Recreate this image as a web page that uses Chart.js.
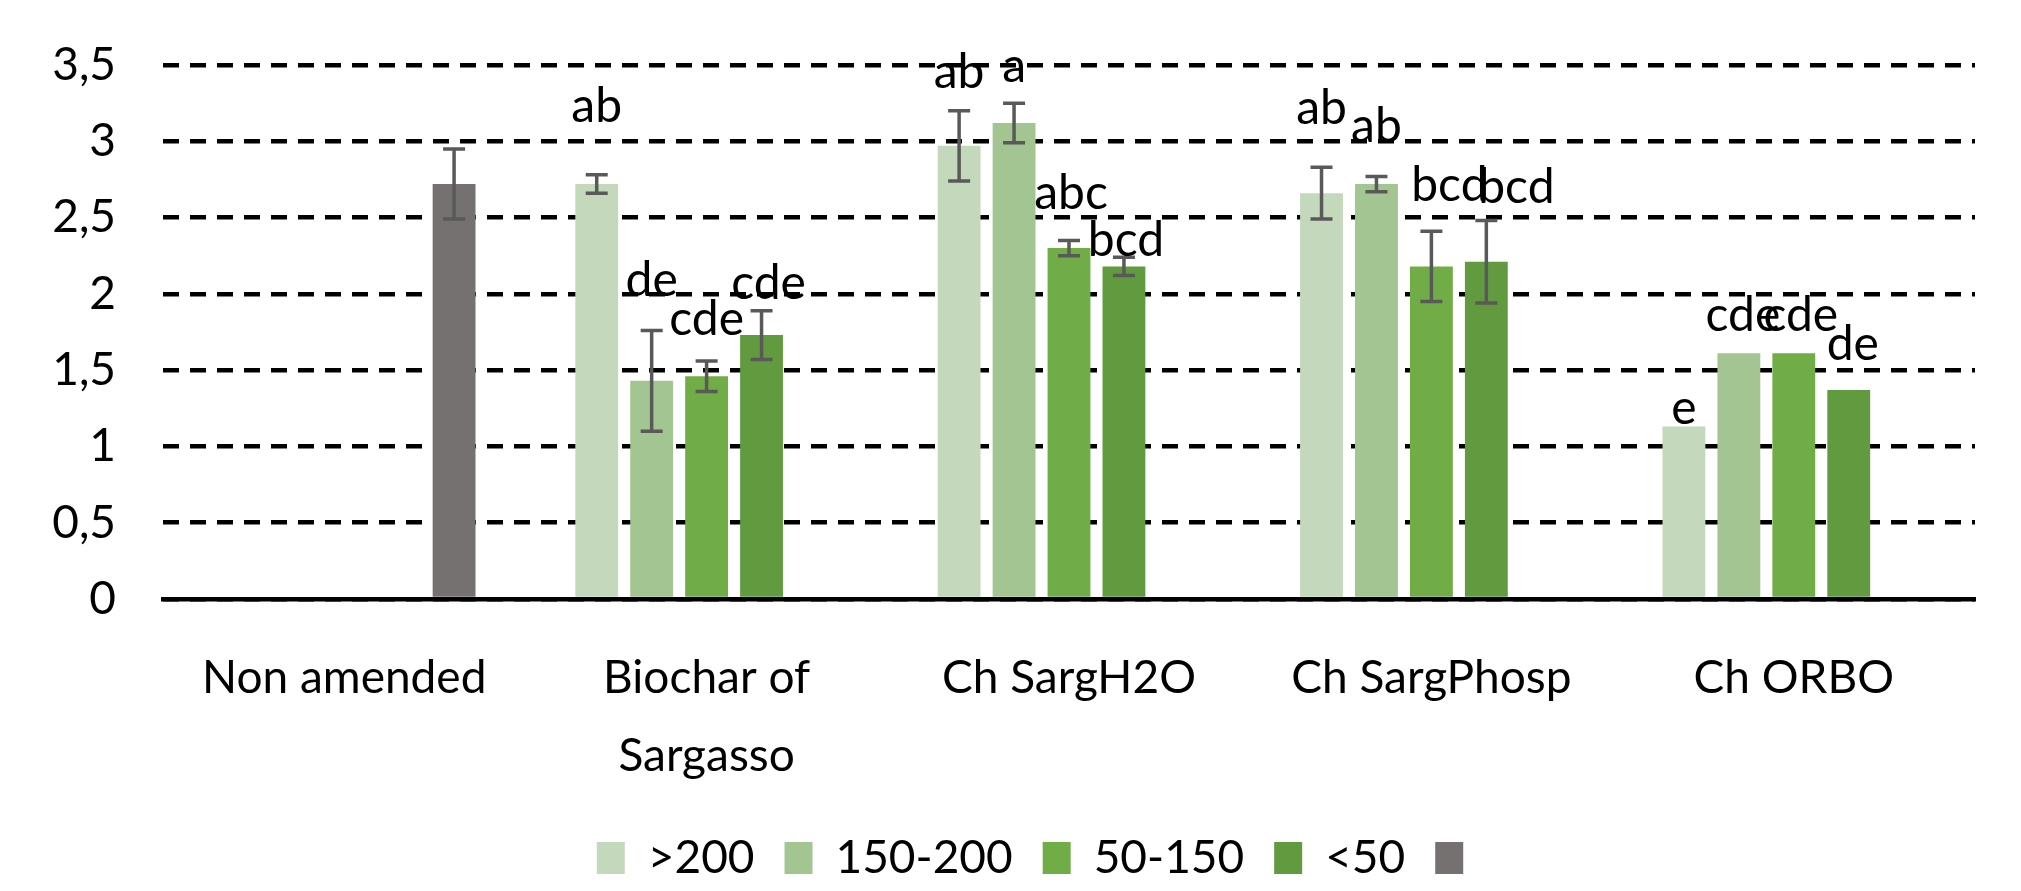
<!DOCTYPE html>
<html>
<head>
<meta charset="utf-8">
<script src="https://cdn.jsdelivr.net/npm/chart.js@4.4.0/dist/chart.umd.min.js"></script>
<style>
  html, body { margin: 0; padding: 0; background: #fff; }
  #wrap { width: 2021px; height: 891px; position: relative; }
</style>
</head>
<body>
<div id="wrap"><canvas id="myChart"></canvas></div>
<script>
// categories (treatments)
const categories = ['Non amended', ['Biochar of', 'Sargasso'], 'Ch SargH2O', 'Ch SargPhosp', 'Ch ORBO'];

// series names (size fractions)
const seriesNames = ['>200', '150-200', '50-150', '<50', ''];

// mean values
const gt200    = [null, 2.72, 2.97, 2.66, 1.13];
const r150_200 = [null, 1.43, 3.12, 2.72, 1.61];
const r50_150  = [null, 1.46, 2.30, 2.18, 1.61];
const lt50     = [null, 1.73, 2.18, 2.21, 1.37];
const nonAmended = [2.72, null, null, null, null];

// standard errors
const errGt200    = [0, 0.06, 0.23, 0.17, 0];
const errR150_200 = [0, 0.33, 0.13, 0.05, 0];
const errR50_150  = [0, 0.10, 0.05, 0.23, 0];
const errLt50     = [0, 0.16, 0.06, 0.27, 0];
const errNonAmended = [0.23, 0, 0, 0, 0];

// significance letters
const letGt200    = [null, 'ab', 'ab', 'ab', 'e'];
const letR150_200 = [null, 'de', 'a', 'ab', 'cde'];
const letR50_150  = [null, 'cde', 'abc', 'bcd', 'cde'];
const letLt50     = [null, 'cde', 'bcd', 'bcd', 'de'];
const letNonAmended = [null, null, null, null, null];

// y axis ticks
const yTicks = [0, 0.5, 1, 1.5, 2, 2.5, 3, 3.5];

// --- styling ---
const colors = ['#C4D8BB', '#A3C592', '#70AD47', '#629B3F', '#767171'];
// how far above the error bar each letter sits (axis units)
const letterLift = [
  [0, 0.45, 0.25, 0.385, 0.12],
  [0, 0.33, 0.24, 0.33, 0.25],
  [0, 0.27, 0.31, 0.30, 0.25],
  [0, 0.18, 0.11, 0.22, 0.30],
  [0, 0, 0, 0, 0]
];
// sideways nudge of letters (px)
const letterNudge = [
  [0, 0, 0, 0, 0],
  [0, 0, 0, 0, 4],
  [0, 0, 2, 18, 7],
  [0, 7, 2, 30, 4],
  [0, 0, 0, 0, 0]
];

const FONT = 'Lato';
const values = [gt200, r150_200, r50_150, lt50, nonAmended];
const errors = [errGt200, errR150_200, errR50_150, errLt50, errNonAmended];
const letters = [letGt200, letR150_200, letR50_150, letLt50, letNonAmended];

const datasets = values.map((v, i) => ({
  label: seriesNames[i],
  data: v,
  backgroundColor: colors[i],
  borderWidth: 0,
  categoryPercentage: 0.758,
  barPercentage: 0.78
}));

const errorBars = {
  id: 'errorBars',
  afterDatasetsDraw(chart) {
    const ctx = chart.ctx;
    const y = chart.scales.y;
    ctx.save();
    values.forEach((vals, d) => {
      const meta = chart.getDatasetMeta(d);
      meta.data.forEach((bar, i) => {
        const v = vals[i];
        if (v == null) return;
        const e = errors[d][i];
        if (e > 0) {
          const top = y.getPixelForValue(v + e);
          const bot = y.getPixelForValue(v - e);
          ctx.strokeStyle = '#595959';
          ctx.lineWidth = 3.5;
          ctx.beginPath();
          ctx.moveTo(bar.x, top); ctx.lineTo(bar.x, bot);
          ctx.moveTo(bar.x - 11, top); ctx.lineTo(bar.x + 11, top);
          ctx.moveTo(bar.x - 11, bot); ctx.lineTo(bar.x + 11, bot);
          ctx.stroke();
        }
        const t = letters[d][i];
        if (t) {
          ctx.fillStyle = '#000';
          ctx.font = '48px ' + FONT;
          ctx.textAlign = 'center';
          ctx.textBaseline = 'middle';
          ctx.fillText(t, bar.x + letterNudge[d][i], y.getPixelForValue(v + e + letterLift[d][i]));
        }
      });
    });
    ctx.restore();
  }
};

// legend sits a bit right of centre in the original
const legendShift = {
  id: 'legendShift',
  afterLayout(chart) {
    chart.legend.left += 54;
    chart.legend.right += 54;
  }
};

const ctx1 = document.getElementById('myChart').getContext('2d');
const myChart = new Chart(ctx1, {
  type: 'bar',
  data: { labels: categories, datasets: datasets },
  plugins: [errorBars, legendShift],
  options: {
    responsive: true,
    maintainAspectRatio: false,
    animation: false,
    layout: { padding: { left: 0, right: 46, top: 65, bottom: 0 } },
    plugins: {
      tooltip: { enabled: false },
      legend: {
        position: 'bottom',
        labels: {
          boxWidth: 28,
          boxHeight: 32,
          padding: 30,
          color: '#000',
          font: { family: FONT, size: 46 }
        }
      }
    },
    scales: {
      x: {
        afterFit: s => { s.height = 206; },
        grid: { display: false, drawTicks: false },
        border: { display: true, color: '#000', width: 4.5 },
        ticks: {
          color: '#000',
          padding: 40,
          autoSkip: false,
          maxRotation: 0,
          font: { family: FONT, size: 46, lineHeight: 1.7 }
        }
      },
      y: {
        min: 0,
        max: 3.5,
        afterFit: s => { s.width = 163; s.paddingTop = 0; s.paddingBottom = 0; },
        afterBuildTicks: s => { s.ticks = yTicks.map(v => ({ value: v })); },
        grid: {
          color: '#000',
          lineWidth: 4.5,
          drawTicks: false
        },
        border: { display: false, dash: [16, 11] },
        ticks: {
          color: '#000',
          padding: 47,
          font: { family: FONT, size: 46 },
          callback: v => String(v).replace('.', ',')
        }
      }
    }
  }
});
</script>
</body>
</html>
